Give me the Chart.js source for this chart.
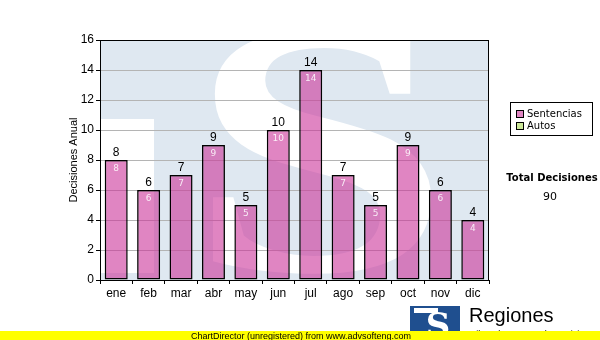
<!DOCTYPE html>
<html>
<head>
<meta charset="utf-8">
<script src="https://cdn.jsdelivr.net/npm/chart.js@4"></script>
<style>
  body { margin: 0; background: #fff; }
  #wrap { width: 600px; height: 340px; }
</style>
</head>
<body>
<div id="wrap"><canvas id="decisionesChart" width="600" height="340"></canvas></div>
<script>
// datos
const meses = ["ene", "feb", "mar", "abr", "may", "jun", "jul", "ago", "sep", "oct", "nov", "dic"];
const sentencias = [8, 6, 7, 9, 5, 10, 14, 7, 5, 9, 6, 4];
const autos = [0, 0, 0, 0, 0, 0, 0, 0, 0, 0, 0, 0];
const yMax = 16;
const yPaso = 2;

const totalDecisiones = sentencias.reduce((s, v) => s + v, 0) + autos.reduce((s, v) => s + v, 0);

const colorSentencias = "rgba(204,51,153,0.6)";
const colorAutos = "#cce899";

// fondo del area de trazado con la marca de agua
const fondo = {
  id: "fondo",
  beforeDraw(chart) {
    const { ctx, chartArea: a } = chart;
    ctx.save();
    ctx.fillStyle = "#dfe8f1";
    ctx.fillRect(a.left, a.top, a.width, a.height);
    ctx.beginPath();
    ctx.rect(a.left, a.top, a.width, a.height);
    ctx.clip();
    ctx.fillStyle = "#ffffff";
    ctx.fillRect(a.left, a.top + 79, 54, 154);
    ctx.font = 'bold 300px "Liberation Serif"';
    const m = ctx.measureText("S");
    const w = m.actualBoundingBoxLeft + m.actualBoundingBoxRight;
    const h = m.actualBoundingBoxAscent + m.actualBoundingBoxDescent;
    ctx.translate(a.left + 110, a.top - 14);
    ctx.scale(222 / w, 250 / h);
    ctx.fillText("S", m.actualBoundingBoxLeft, m.actualBoundingBoxAscent);
    ctx.restore();
  }
};

// etiquetas de valor sobre y dentro de cada barra
const etiquetas = {
  id: "etiquetas",
  afterDatasetsDraw(chart) {
    const { ctx } = chart;
    const meta = chart.getDatasetMeta(0);
    ctx.save();
    ctx.textAlign = "center";
    meta.data.forEach((bar, i) => {
      const v = sentencias[i] + autos[i];
      ctx.fillStyle = "#000";
      ctx.font = '12px "Liberation Sans", Arial';
      ctx.textBaseline = "bottom";
      ctx.fillText(String(v), bar.x, bar.y - 1);
      ctx.fillStyle = "rgba(255,255,255,0.85)";
      ctx.font = '9px "DejaVu Sans"';
      ctx.textBaseline = "top";
      ctx.fillText(String(sentencias[i]), bar.x, bar.y + 4);
    });
    ctx.restore();
  }
};

// marco, leyenda, total, logo y banda amarilla
const extras = {
  id: "extras",
  afterDraw(chart) {
    const { ctx, chartArea: a } = chart;
    ctx.save();
    ctx.strokeStyle = "#000";
    ctx.lineWidth = 1;
    ctx.strokeRect(a.left + 0.5, a.top + 0.5, a.width - 1, a.height);

    // leyenda
    const lx = 510, ly = 102;
    ctx.fillStyle = "#fff";
    ctx.fillRect(lx, ly, 82, 33);
    ctx.strokeRect(lx + 0.5, ly + 0.5, 82, 33);
    ctx.font = '10px "DejaVu Sans"';
    ctx.textBaseline = "middle";
    ctx.textAlign = "left";
    [["Sentencias", colorSentencias], ["Autos", colorAutos]].forEach((it, k) => {
      const y = ly + 12 + k * 12;
      ctx.fillStyle = "#fff";
      ctx.fillRect(lx + 6, y - 4, 8, 8);
      ctx.fillStyle = it[1];
      ctx.fillRect(lx + 6, y - 4, 8, 8);
      ctx.strokeStyle = "#000";
      ctx.strokeRect(lx + 6.5, y - 3.5, 7, 7);
      ctx.fillStyle = "#000";
      ctx.fillText(it[0], lx + 17, y);
    });

    // total
    ctx.textAlign = "center";
    ctx.textBaseline = "alphabetic";
    ctx.font = 'bold 10px "DejaVu Sans"';
    ctx.fillText("Total Decisiones", 552, 181);
    ctx.font = '11px "DejaVu Sans"';
    ctx.fillText(String(totalDecisiones), 550, 200);

    // logo
    ctx.fillStyle = "#1f4f8f";
    ctx.fillRect(410, 306, 50, 26);
    ctx.fillStyle = "#fff";
    ctx.font = 'bold 34px "DejaVu Serif"';
    ctx.textAlign = "center";
    ctx.fillText("S", 438, 337);
    ctx.fillRect(414, 308, 24, 5);
    ctx.fillStyle = "#000";
    ctx.textAlign = "left";
    ctx.font = '20px "Liberation Sans", Arial';
    ctx.fillText("Regiones", 469, 322);
    ctx.font = '9px "Liberation Sans", Arial';
    ctx.fillText("Tribunal Supremo de Justicia", 468, 337);

    // banda amarilla
    ctx.fillStyle = "#ffff00";
    ctx.fillRect(0, 331, 600, 9);
    ctx.fillStyle = "#000";
    ctx.font = '9px "Liberation Sans", Arial';
    ctx.textAlign = "left";
    ctx.textBaseline = "alphabetic";
    ctx.fillText("ChartDirector (unregistered) from www.advsofteng.com", 191, 339);
    ctx.restore();
  }
};

new Chart(document.getElementById("decisionesChart"), {
  type: "bar",
  data: {
    labels: meses,
    datasets: [
      {
        label: "Sentencias",
        data: sentencias,
        backgroundColor: colorSentencias,
        borderColor: "#000",
        borderWidth: 1.5,
        borderSkipped: false,
        barPercentage: 0.71,
        categoryPercentage: 1
      },
      {
        label: "Autos",
        data: autos,
        backgroundColor: colorAutos,
        borderColor: "#000",
        borderWidth: 0,
        barPercentage: 0.71,
        categoryPercentage: 1
      }
    ]
  },
  options: {
    responsive: false,
    animation: false,
    layout: { padding: { left: 67, top: 40, right: 111, bottom: 0 } },
    plugins: {
      legend: { display: false },
      tooltip: { enabled: false }
    },
    scales: {
      x: {
        stacked: true,
        afterFit: (s) => { s.height = 60; },
        grid: { drawOnChartArea: false, tickLength: 4, tickColor: "#000" },
        border: { color: "#000" },
        ticks: { color: "#000", padding: 2, font: { family: '"Liberation Sans", Arial', size: 12 } }
      },
      y: {
        stacked: true,
        min: 0,
        max: yMax,
        afterFit: (s) => { s.width = 33; },
        grid: { color: "#b4b4b4", tickLength: 4, tickColor: "#000" },
        border: { color: "#000" },
        ticks: { stepSize: yPaso, color: "#000", padding: 2, font: { family: '"Liberation Sans", Arial', size: 12 } },
        title: { display: true, text: "Decisiones Anual", color: "#000", padding: 0, font: { family: '"Liberation Sans", Arial', size: 11 } }
      }
    }
  },
  plugins: [fondo, etiquetas, extras]
});
</script>
</body>
</html>
